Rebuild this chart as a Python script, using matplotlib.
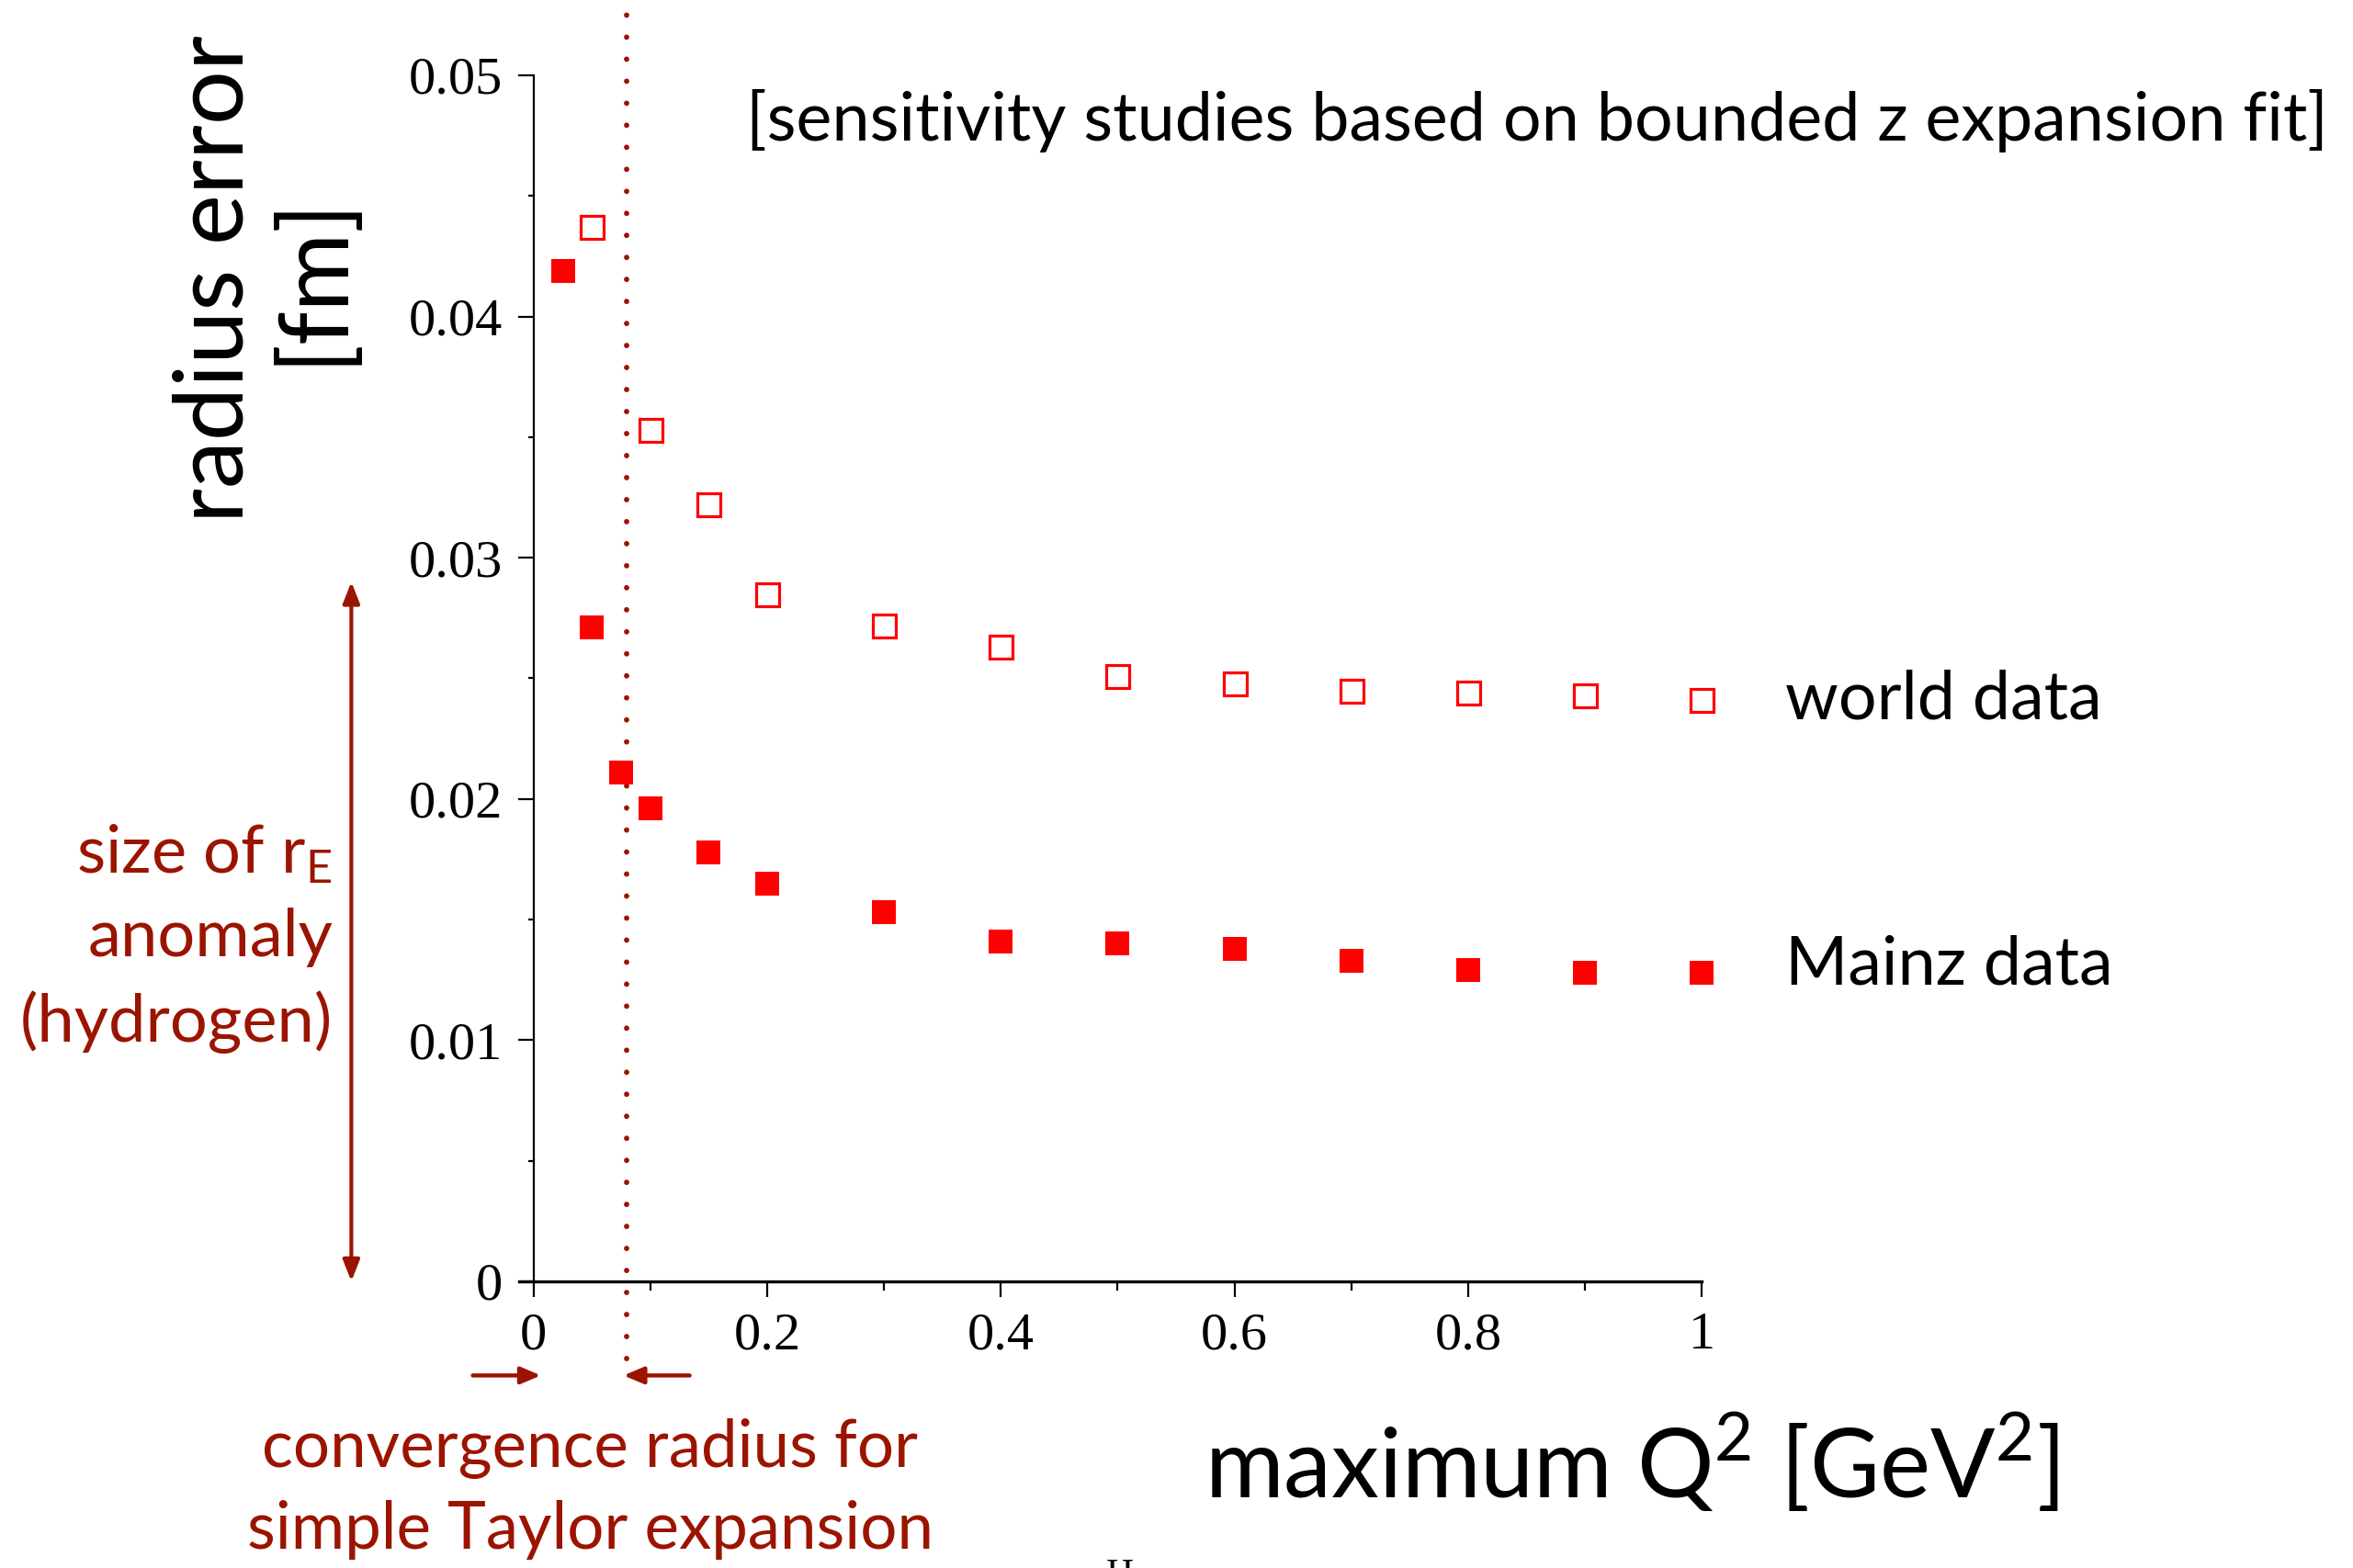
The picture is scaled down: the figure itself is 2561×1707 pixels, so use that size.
import matplotlib
matplotlib.use('Agg')
import matplotlib.pyplot as plt
from matplotlib.ticker import MultipleLocator

# Radius error vs. maximum Q^2 used in the fit
q2_world = [0.05, 0.1, 0.15, 0.2, 0.3, 0.4, 0.5, 0.6, 0.7, 0.8, 0.9, 1.0]
err_world = [0.0437, 0.0353, 0.0322, 0.0285, 0.0272, 0.0263, 0.0251, 0.0248,
             0.0245, 0.0244, 0.0243, 0.0241]

q2_mainz = [0.025, 0.05, 0.075, 0.1, 0.15, 0.2, 0.3, 0.4, 0.5, 0.6, 0.7, 0.8, 0.9, 1.0]
err_mainz = [0.0419, 0.0271, 0.0211, 0.0196, 0.0178, 0.0165, 0.0153, 0.0141,
             0.0140, 0.0138, 0.0133, 0.0129, 0.0128, 0.0128]

TAYLOR_RADIUS = 0.08     # GeV^2
ANOMALY_SIZE = 0.029     # fm

RED = '#FF0000'
DARKRED = '#9B1400'
SANS = ['Lato', 'DejaVu Sans']
SERIF = ['Liberation Serif', 'DejaVu Serif']

plt.rcParams['mathtext.fontset'] = 'custom'
plt.rcParams['mathtext.rm'] = 'Lato'

fig = plt.figure(figsize=(25.61, 17.07), dpi=100)
ax = fig.add_axes([0.2208, 0.1828, 0.5024, 0.7692])

ax.plot(q2_world, err_world, 's', ms=18, mfc='white', mec=RED, mew=2.3, clip_on=False, zorder=3)
ax.plot(q2_mainz, err_mainz, 's', ms=18.5, mfc=RED, mec=RED, mew=0, clip_on=False, zorder=3)

ax.set_xlim(-0.012, 1.0)
ax.set_ylim(0, 0.05)
ax.spines['left'].set_position(('data', 0))
ax.spines['left'].set_bounds(0, 0.05)
ax.spines['left'].set_linewidth(1.6)
ax.spines['bottom'].set_linewidth(2.4)
ax.spines['top'].set_visible(False)
ax.spines['right'].set_visible(False)

ax.xaxis.set_minor_locator(MultipleLocator(0.1))
ax.yaxis.set_minor_locator(MultipleLocator(0.005))
ax.set_xticks([0, 0.2, 0.4, 0.6, 0.8, 1.0])
ax.set_xticklabels(['0', '0.2', '0.4', '0.6', '0.8', '1'])
ax.set_yticks([0, 0.01, 0.02, 0.03, 0.04, 0.05])
ax.set_yticklabels(['0', '0.01', '0.02', '0.03', '0.04', '0.05'])
ax.tick_params(axis='x', which='major', direction='out', length=12, width=1.6, pad=12)
ax.tick_params(axis='x', which='minor', direction='out', length=7, width=1.6)
ax.tick_params(axis='y', which='major', direction='out', length=12, width=1.6, pad=12)
ax.tick_params(axis='y', which='minor', direction='out', length=4.5, width=1.6)
for lab in ax.get_xticklabels() + ax.get_yticklabels():
    lab.set_family(SERIF)
    lab.set_fontsize(42)

# dotted line at the Taylor convergence radius
ax.plot([TAYLOR_RADIUS, TAYLOR_RADIUS], [-0.0032, 0.0532], color=DARKRED, lw=4.2,
        dashes=[0.01, 4.1], dash_capstyle='round', clip_on=False, zorder=2)

# anomaly size arrow
ax.annotate('', xy=(-0.156, ANOMALY_SIZE), xytext=(-0.156, 0), annotation_clip=False,
            arrowprops=dict(arrowstyle='<|-|>,head_length=1.4,head_width=0.55',
                            color=DARKRED, lw=3.0, shrinkA=0, shrinkB=0))

# convergence radius markers under the axis
ax.annotate('', xy=(0.0063, -0.0039), xytext=(-0.052, -0.0039), annotation_clip=False,
            arrowprops=dict(arrowstyle='-|>,head_length=1.3,head_width=0.55',
                            color=DARKRED, lw=3.2, shrinkA=0, shrinkB=0))
ax.annotate('', xy=(0.077, -0.0039), xytext=(0.1336, -0.0039), annotation_clip=False,
            arrowprops=dict(arrowstyle='-|>,head_length=1.3,head_width=0.55',
                            color=DARKRED, lw=3.2, shrinkA=0, shrinkB=0))

ax.text(1.0715, err_world[-1], 'world data', family=SANS, fontsize=53,
        ha='left', va='center', clip_on=False)
ax.text(1.0715, 0.0131, 'Mainz data', family=SANS, fontsize=53,
        ha='left', va='center', clip_on=False)

fig.text(0.317, 0.923, '[sensitivity studies based on bounded z expansion fit]',
         family=SANS, fontsize=53, ha='left', va='center')
fig.text(0.6935, 0.0674, 'maximum Q$^2$ [GeV$^2$]', family=SANS, fontsize=75,
         ha='center', va='center')
fig.text(0.1125, 0.822, 'radius error\n[fm]', family=SANS, fontsize=75, rotation=90,
         ha='center', va='center', multialignment='center', linespacing=1.12)

fig.text(0.1414, 0.4019, 'size of r$_\\mathrm{E}$\nanomaly\n(hydrogen)', family=SANS,
         fontsize=52, color=DARKRED, ha='right', va='center', multialignment='right',
         linespacing=1.45)
fig.text(0.2507, 0.0504, 'convergence radius for\nsimple Taylor expansion', family=SANS,
         fontsize=51, color=DARKRED, ha='center', va='center', multialignment='center',
         linespacing=1.42)

fig.text(0.476, 0.006, 'H', family=SERIF, fontsize=30, ha='center', va='top')

fig.savefig('out.png', dpi=100, facecolor='white')
